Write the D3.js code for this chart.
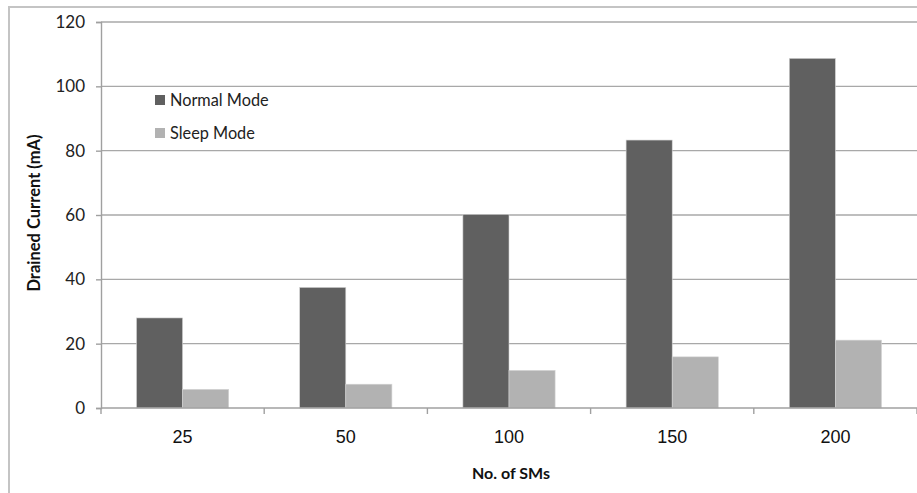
<!DOCTYPE html>
<html>
<head>
<meta charset="utf-8">
<script src="https://cdn.jsdelivr.net/npm/d3@7/dist/d3.min.js"></script>
<style>
  html, body { margin: 0; padding: 0; background: #fff; }
  svg { display: block; }
</style>
</head>
<body>
<svg id="chart" width="917" height="493"></svg>
<script>
// Drained current per number of SMs
const categories = ["25", "50", "100", "150", "200"];
const normalMode = [28, 37.5, 60.2, 83.3, 108.7];
const sleepMode = [5.8, 7.4, 11.7, 15.9, 21.1];
const seriesNames = ["Normal Mode", "Sleep Mode"];
const yTicks = [0, 20, 40, 60, 80, 100, 120];

const colors = { "Normal Mode": "#606060", "Sleep Mode": "#b2b2b2" };
const rows = categories.map((c, i) => ({ cat: c, "Normal Mode": normalMode[i], "Sleep Mode": sleepMode[i] }));

const svg = d3.select("#chart");
const plot = { left: 101, right: 917, top: 22, bottom: 408 };
const uiFont = "Lato, 'Open Sans', sans-serif";

// outer frame
svg.append("path")
  .attr("d", "M9,493 V7 H917")
  .attr("fill", "none")
  .attr("stroke", "#c4c4c4")
  .attr("stroke-width", 2);

const y = d3.scaleLinear().domain([0, 120]).range([plot.bottom, plot.top]);
const x = d3.scaleBand().domain(categories).range([plot.left, plot.right])
  .paddingInner(0.435).paddingOuter(0.2175);
const step = x.step();
const xs = d3.scaleBand().domain(seriesNames).range([0, x.bandwidth()]);

// horizontal gridlines
svg.append("g").selectAll("line").data(yTicks.filter(t => t > 0)).join("line")
  .attr("x1", plot.left).attr("x2", plot.right)
  .attr("y1", d => y(d)).attr("y2", d => y(d))
  .attr("stroke", "#a8a8a8").attr("stroke-width", 1.4);

// bars
const groups = svg.append("g").selectAll("g").data(rows).join("g")
  .attr("transform", d => `translate(${x(d.cat)},0)`);
groups.selectAll("rect").data(d => seriesNames.map(s => ({ s, v: d[s] }))).join("rect")
  .attr("x", d => xs(d.s))
  .attr("width", xs.bandwidth())
  .attr("y", d => y(d.v))
  .attr("height", d => y(0) - y(d.v))
  .attr("fill", d => colors[d.s])
  .attr("stroke", "#d4d4d4")
  .attr("stroke-width", 0.6);

// y axis
const yAxis = d3.axisLeft(y).tickValues(yTicks).tickSize(5).tickPadding(11);
const gy = svg.append("g").attr("transform", `translate(${plot.left},0)`).call(yAxis);
gy.select(".domain").attr("stroke", "#a0a0a0").attr("stroke-width", 1.4);
gy.selectAll(".tick line").attr("stroke", "#a0a0a0").attr("stroke-width", 1.4);
gy.selectAll("text").attr("font-family", uiFont)
  .attr("font-size", 17).attr("fill", "#222");

// x axis baseline and category ticks at band boundaries
svg.append("line")
  .attr("x1", plot.left).attr("x2", plot.right)
  .attr("y1", y(0)).attr("y2", y(0))
  .attr("stroke", "#a0a0a0").attr("stroke-width", 1.4);
const bounds = d3.range(categories.length + 1).map(i => plot.left + i * step);
svg.append("g").selectAll("line").data(bounds).join("line")
  .attr("x1", d => d).attr("x2", d => d)
  .attr("y1", y(0)).attr("y2", y(0) + 6)
  .attr("stroke", "#a0a0a0").attr("stroke-width", 1.4);
svg.append("g").selectAll("text").data(categories).join("text")
  .attr("x", d => x(d) + x.bandwidth() / 2)
  .attr("y", 443)
  .attr("text-anchor", "middle")
  .attr("font-family", "'Liberation Sans', Arial, sans-serif")
  .attr("font-size", 18)
  .attr("fill", "#111")
  .text(d => d);

// axis titles
svg.append("text")
  .attr("transform", "translate(40,213) rotate(-90)")
  .attr("text-anchor", "middle")
  .attr("font-family", uiFont)
  .attr("font-weight", "bold")
  .attr("font-size", 16.5)
  .attr("fill", "#111")
  .text("Drained Current (mA)");
svg.append("text")
  .attr("x", 511).attr("y", 479)
  .attr("text-anchor", "middle")
  .attr("font-family", uiFont)
  .attr("font-weight", "bold")
  .attr("font-size", 16)
  .attr("fill", "#111")
  .text("No. of SMs");

// legend
const legend = svg.append("g").selectAll("g").data(seriesNames).join("g")
  .attr("transform", (d, i) => `translate(155,${95 + i * 33})`);
legend.append("rect").attr("width", 10).attr("height", 10)
  .attr("fill", d => colors[d]);
legend.append("text")
  .attr("x", 15).attr("y", 10.5)
  .attr("font-family", uiFont)
  .attr("font-size", 16.3)
  .attr("fill", "#222")
  .text(d => d);
</script>
</body>
</html>
